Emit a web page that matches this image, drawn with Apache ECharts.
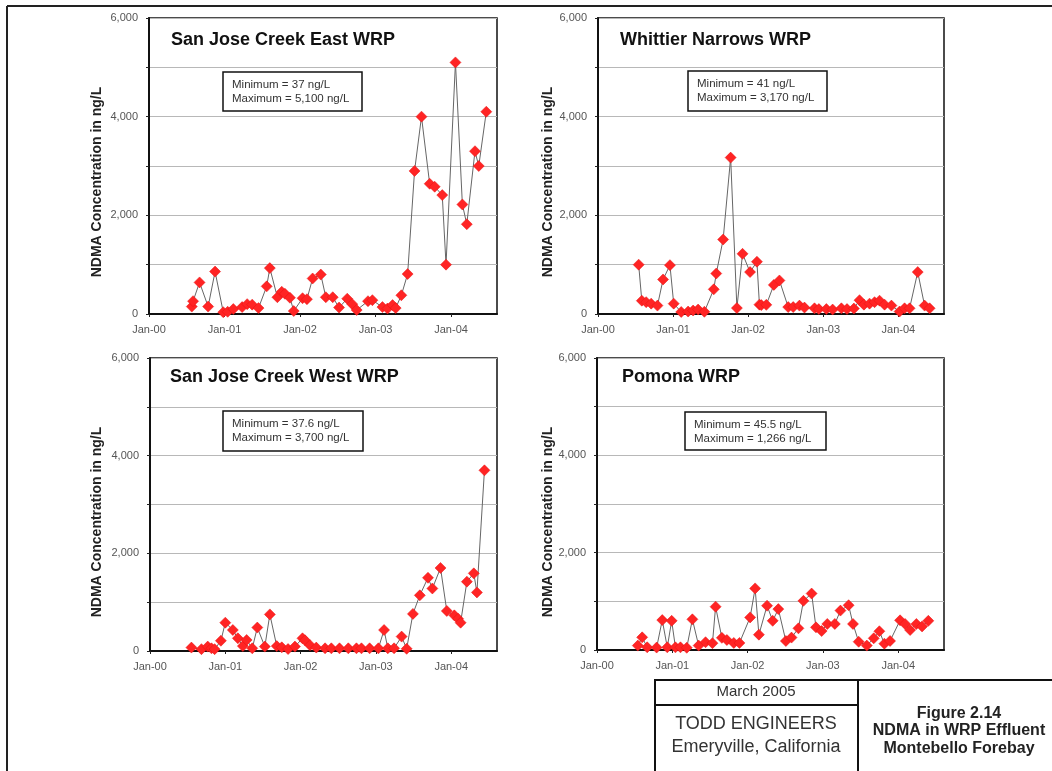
<!DOCTYPE html>
<html>
<head>
<meta charset="utf-8">
<script src="https://cdn.jsdelivr.net/npm/echarts@6/dist/echarts.min.js"></script>
<style>
html,body{margin:0;padding:0;background:#fff;}
#chart{width:1052px;height:771px;}
</style>
</head>
<body>
<div id="chart"></div>
<script>
// ---------- DATA ----------
const TITLES = ['San Jose Creek East WRP', 'Whittier Narrows WRP', 'San Jose Creek West WRP', 'Pomona WRP'];
const MIN_TEXT = ['Minimum = 37 ng/L', 'Minimum = 41 ng/L', 'Minimum = 37.6 ng/L', 'Minimum = 45.5 ng/L'];
const MAX_TEXT = ['Maximum = 5,100 ng/L', 'Maximum = 3,170 ng/L', 'Maximum = 3,700 ng/L', 'Maximum = 1,266 ng/L'];
const Y_TITLE = 'NDMA Concentration in ng/L';
const X_TICK_LABELS = ['Jan-00', 'Jan-01', 'Jan-02', 'Jan-03', 'Jan-04'];
const Y_TICK_LABELS = { 0: '0', 2000: '2,000', 4000: '4,000', 6000: '6,000' };

const EAST_DATES = ['2000-07-25','2000-08-01','2000-09-02','2000-10-13','2000-11-16','2000-12-25','2001-01-16','2001-02-13','2001-03-25','2001-04-19','2001-05-13','2001-06-13','2001-07-22','2001-08-07','2001-09-13','2001-10-04','2001-10-19','2001-11-13','2001-12-01','2002-01-13','2002-02-04','2002-03-01','2002-04-10','2002-05-04','2002-06-07','2002-07-07','2002-08-16','2002-09-10','2002-10-01','2002-11-25','2002-12-16','2003-02-04','2003-02-28','2003-03-22','2003-04-07','2003-05-04','2003-06-04','2003-07-07','2003-08-10','2003-09-19','2003-10-13','2003-11-19','2003-12-07','2004-01-22','2004-02-25','2004-03-16','2004-04-25','2004-05-13','2004-06-19'];
const EAST_VALUES = [150,260,640,150,860,37,45,100,140,200,190,120,560,930,340,450,410,330,60,320,300,720,800,340,340,130,310,200,80,260,280,140,110,180,120,380,810,2900,4000,2640,2580,2410,1000,5100,2220,1820,3300,3000,4100];

const WHITTIER_DATES = ['2000-07-16','2000-08-01','2000-08-22','2000-09-16','2000-10-16','2000-11-13','2000-12-16','2001-01-04','2001-02-10','2001-03-13','2001-04-07','2001-05-01','2001-06-01','2001-07-16','2001-07-28','2001-09-01','2001-10-07','2001-11-07','2001-12-04','2002-01-10','2002-02-13','2002-02-25','2002-03-04','2002-03-28','2002-05-04','2002-06-01','2002-07-13','2002-08-07','2002-09-07','2002-10-01','2002-11-19','2002-12-10','2003-01-16','2003-02-16','2003-03-28','2003-04-25','2003-05-28','2003-06-25','2003-07-16','2003-08-13','2003-09-07','2003-10-01','2003-10-25','2003-11-28','2004-01-07','2004-02-01','2004-02-25','2004-04-04','2004-05-07','2004-06-01'];
const WHITTIER_VALUES = [1000,270,240,210,170,700,990,210,41,50,70,90,45,500,820,1510,3170,120,1220,850,1060,190,180,185,590,680,140,140,170,130,115,100,100,90,115,100,110,280,190,210,240,270,190,170,50,115,115,850,170,115];

const WEST_DATES = ['2000-07-19','2000-09-07','2000-10-07','2000-10-25','2000-11-10','2000-12-10','2001-01-01','2001-02-07','2001-03-01','2001-03-25','2001-04-13','2001-05-10','2001-06-04','2001-07-10','2001-08-04','2001-09-07','2001-10-01','2001-11-01','2001-12-04','2002-01-10','2002-01-22','2002-02-16','2002-03-16','2002-04-28','2002-05-28','2002-07-07','2002-08-19','2002-09-28','2002-10-22','2002-12-01','2003-01-13','2003-02-10','2003-02-28','2003-03-28','2003-05-04','2003-05-28','2003-06-28','2003-08-01','2003-09-10','2003-10-01','2003-11-10','2003-12-10','2004-01-16','2004-02-04','2004-02-16','2004-03-16','2004-04-19','2004-05-04','2004-06-10'];
const WEST_VALUES = [70,38,90,55,38,210,580,430,260,100,225,55,480,90,750,100,75,40,90,260,220,120,70,55,55,55,55,55,55,55,55,430,55,55,295,45,760,1140,1500,1280,1700,820,730,660,580,1420,1590,1200,3700];

const POMONA_DATES = ['2000-07-16','2000-08-07','2000-09-01','2000-10-16','2000-11-13','2000-12-07','2000-12-28','2001-01-16','2001-02-10','2001-03-10','2001-04-07','2001-05-07','2001-06-10','2001-07-13','2001-07-28','2001-08-28','2001-09-22','2001-10-25','2001-11-22','2002-01-13','2002-02-07','2002-02-25','2002-04-04','2002-05-01','2002-05-28','2002-07-04','2002-08-01','2002-09-04','2002-09-28','2002-11-07','2002-11-28','2002-12-25','2003-01-22','2003-02-28','2003-03-25','2003-05-04','2003-05-25','2003-06-22','2003-08-01','2003-09-04','2003-10-01','2003-10-25','2003-11-22','2004-01-10','2004-02-04','2004-02-28','2004-03-28','2004-04-25','2004-05-25'];
const POMONA_VALUES = [90,260,55,50,615,55,600,55,55,46,630,90,160,140,890,250,205,145,145,670,1266,315,910,600,840,185,255,445,1010,1160,465,390,535,535,810,920,535,170,90,240,385,130,185,610,535,410,535,485,600];

// ---------- HELPERS ----------
const FONT = '"Liberation Sans", Arial, sans-serif';
function toMonths(s) { // months since Jan 1 2000
  const p = s.split('-').map(Number);
  return (p[0] - 2000) * 12 + (p[1] - 1) + (p[2] - 1) / 30;
}
const SERIES = [
  [EAST_DATES, EAST_VALUES],
  [WHITTIER_DATES, WHITTIER_VALUES],
  [WEST_DATES, WEST_VALUES],
  [POMONA_DATES, POMONA_VALUES]
];
// layout of the four plot areas
const GRIDS = [
  { left: 149, top: 18, width: 348, height: 296 },
  { left: 598, top: 18, width: 346, height: 296 },
  { left: 150, top: 358, width: 347, height: 293 },
  { left: 597, top: 358, width: 347, height: 292 }
];
const X_MAX = 55.3;

const chart = echarts.init(document.getElementById('chart'), null, { renderer: 'canvas' });

const grid = GRIDS.map(g => Object.assign({ show: true, borderColor: '#111', borderWidth: 1.5, backgroundColor: 'transparent' }, g));
const xAxis = GRIDS.map((g, i) => ({
  type: 'value', gridIndex: i, min: 0, max: X_MAX, interval: 12,
  axisLine: { show: true, onZero: false, lineStyle: { color: '#111', width: 2 } },
  axisTick: { show: true, length: 3, lineStyle: { color: '#222' } },
  splitLine: { show: false },
  axisLabel: {
    fontSize: 11, color: '#555', margin: 10, fontFamily: FONT,
    showMaxLabel: false,
    formatter: v => { const k = Math.round(v / 12); return (Math.abs(v - k * 12) < 1e-6 && X_TICK_LABELS[k]) ? X_TICK_LABELS[k] : ''; }
  }
}));
const yAxis = GRIDS.map((g, i) => ({
  type: 'value', gridIndex: i, min: 0, max: 6000, interval: 1000,
  axisLine: { show: true, lineStyle: { color: '#111', width: 2 } },
  axisTick: { show: true, length: 3, lineStyle: { color: '#222' } },
  splitLine: { show: true, lineStyle: { color: '#b8b8b8', width: 1 } },
  axisLabel: {
    fontSize: 11, color: '#555', margin: 11, fontFamily: FONT,
    formatter: v => Y_TICK_LABELS[v] !== undefined ? Y_TICK_LABELS[v] : ''
  }
}));
const series = SERIES.map((s, i) => ({
  type: 'line', xAxisIndex: i, yAxisIndex: i,
  data: s[0].map((d, j) => [toMonths(d), s[1][j]]),
  symbol: 'diamond', symbolSize: 11,
  lineStyle: { color: '#666', width: 1 },
  itemStyle: { color: '#ff2424', borderColor: '#e81010', borderWidth: 0.5 },
  emphasis: { disabled: true },
  z: 3
}));

// text / boxes
const graphic = [];
// outer frame
graphic.push({ type: 'line', shape: { x1: 7, y1: 6, x2: 1052, y2: 6 }, style: { stroke: '#222', lineWidth: 2 } });
graphic.push({ type: 'line', shape: { x1: 7, y1: 6, x2: 7, y2: 771 }, style: { stroke: '#222', lineWidth: 2 } });

const TITLE_POS = [[171, 40], [620, 40], [170, 377], [622, 377]];
const BOX_POS = [[223, 72, 139, 39], [688, 71, 139, 40], [223, 411, 140, 40], [685, 412, 141, 38]];
const YT_POS = [[97, 182], [548, 182], [97, 522], [548, 522]];
for (let i = 0; i < 4; i++) {
  graphic.push({ type: 'text', x: TITLE_POS[i][0], y: TITLE_POS[i][1], z: 10,
    style: { text: TITLES[i], font: 'bold 18px ' + FONT, fill: '#111', verticalAlign: 'middle', align: 'left' } });
  const b = BOX_POS[i];
  graphic.push({ type: 'rect', z: 10, shape: { x: b[0], y: b[1], width: b[2], height: b[3] },
    style: { fill: '#fff', stroke: '#111', lineWidth: 1.5 } });
  graphic.push({ type: 'text', z: 11, x: b[0] + 9, y: b[1] + 13,
    style: { text: MIN_TEXT[i], font: '11.5px ' + FONT, fill: '#333', verticalAlign: 'middle', align: 'left' } });
  graphic.push({ type: 'text', z: 11, x: b[0] + 9, y: b[1] + 27,
    style: { text: MAX_TEXT[i], font: '11.5px ' + FONT, fill: '#333', verticalAlign: 'middle', align: 'left' } });
  graphic.push({ type: 'text', z: 10, x: YT_POS[i][0], y: YT_POS[i][1], rotation: Math.PI / 2,
    style: { text: Y_TITLE, font: 'bold 14px ' + FONT, fill: '#222', verticalAlign: 'middle', align: 'center' } });
}

// title block
graphic.push({ type: 'rect', shape: { x: 655, y: 680, width: 420, height: 120 }, style: { fill: 'none', stroke: '#111', lineWidth: 2 } });
graphic.push({ type: 'line', shape: { x1: 858, y1: 680, x2: 858, y2: 771 }, style: { stroke: '#111', lineWidth: 2 } });
graphic.push({ type: 'line', shape: { x1: 655, y1: 705, x2: 858, y2: 705 }, style: { stroke: '#111', lineWidth: 2 } });
const TB_LEFT = [['March 2005', 692, 15], ['TODD ENGINEERS', 724, 18], ['Emeryville, California', 747, 18]];
TB_LEFT.forEach(t => graphic.push({ type: 'text', x: 756, y: t[1],
  style: { text: t[0], font: t[2] + 'px ' + FONT, fill: '#333', align: 'center', verticalAlign: 'middle' } }));
const TB_RIGHT = [['Figure 2.14', 714], ['NDMA in WRP Effluent', 731], ['Montebello Forebay', 749]];
TB_RIGHT.forEach(t => graphic.push({ type: 'text', x: 959, y: t[1],
  style: { text: t[0], font: 'bold 16px ' + FONT, fill: '#222', align: 'center', verticalAlign: 'middle' } }));

chart.setOption({
  animation: false,
  backgroundColor: '#fff',
  grid, xAxis, yAxis, series, graphic
});
</script>
</body>
</html>
